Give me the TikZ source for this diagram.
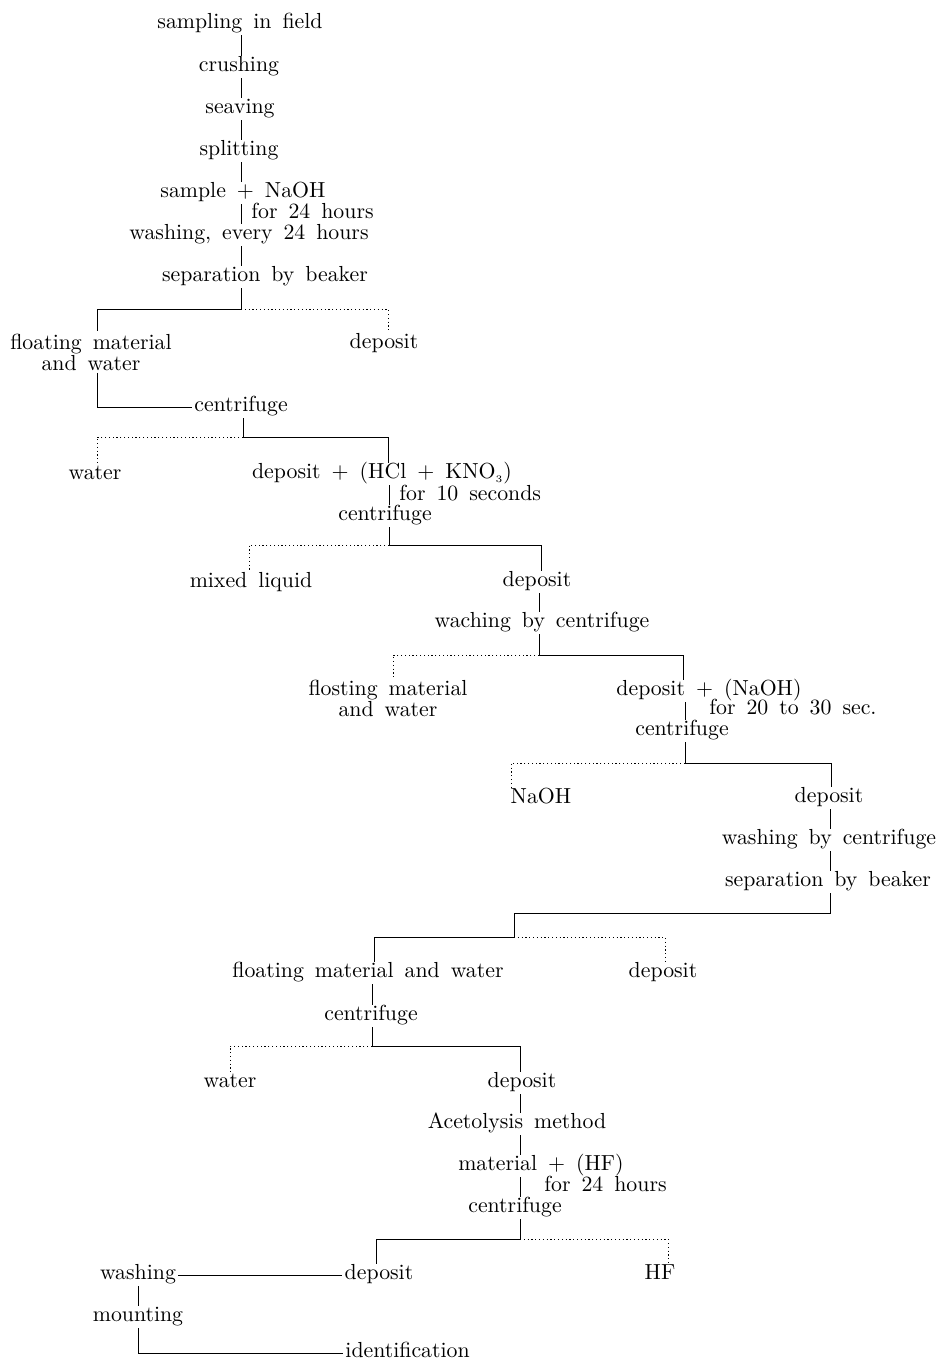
\documentclass[tikz,border=0pt]{standalone}
\usepackage{amsmath,amssymb}
\usepackage{tikz}
\usetikzlibrary{positioning,calc}
\newcommand\flowfont{\fontsize{10.9}{10.5}\selectfont\spaceskip=5.5pt\relax}

\begin{document}
\begin{tikzpicture}[x=0.5pt,y=-0.5pt,line width=0.45pt,
  lbl/.style={inner sep=1pt,text height=1.55ex,text depth=0.45ex,yshift=-1.5pt,font=\flowfont},
  lbltwo/.style={inner sep=1pt,align=center,font=\flowfont},
  waste/.style={dash pattern=on 0.6pt off 1.3pt}]
  \useasboundingbox (0,0) rectangle (941,1360);
  % main stem
  \node[lbl] (n1) at (240,21) {sampling in field};
  \node[lbl] (n2) at (239,64) {crushing};
  \node[lbl] (n3) at (240,106) {seaving};
  \node[lbl] (n4) at (239,148) {splitting};
  \node[lbl] (n5) at (243,190) {sample $+$ NaOH};
  \node[lbl,anchor=west] (t5) at (249,211) {for 24 hours};
  \node[lbl] (n6) at (249,232) {washing, every 24 hours};
  \node[lbl] (n7) at (265,274) {separation by beaker};
  \coordinate (b1) at (241,309); \coordinate (b1l) at (97,309); \coordinate (b1r) at (388,309);
  \draw (n1.south -| b1) -- (n2.north -| b1) (n2.south -| b1) -- (n3.north -| b1)
        (n3.south -| b1) -- (n4.north -| b1) (n4.south -| b1) -- (n5.north -| b1)
        (n5.south -| b1) -- (n6.north -| b1) (n6.south -| b1) -- (n7.north -| b1)
        (n7.south -| b1) -- (b1) -- (b1l);
  \node[lbltwo] (n8) at (91,352) {floating material\\and water};
  \node[lbl] (n9) at (384,341) {deposit};
  \draw (b1l) -- (n8.north -| b1l);
  \draw[waste] (b1) -- (b1r) -- (n9.north -| b1r);
  \node[lbl] (n10) at (241,404) {centrifuge};
  \draw (n8.south -| b1l) |- (n10.west);
  \coordinate (b2) at (243,437); \coordinate (b2l) at (97,437); \coordinate (b2r) at (388,437);
  \node[lbl] (n11) at (95,472) {water};
  \node[lbl] (n12) at (382,471) {deposit $+$ (HCl $+$ KNO$_{\scriptscriptstyle 3}$)};
  \node[lbl,anchor=west] (t12) at (397,493) {for 10 seconds};
  \node[lbl] (n13) at (385,513) {centrifuge};
  \draw (n10.south -| b2) -- (b2) -- (b2r) -- (n12.north -| b2r);
  \draw[waste] (b2) -- (b2l) -- (n11.north -| b2l);
  \coordinate (b3) at (389,545); \coordinate (b3l) at (249,545); \coordinate (b3r) at (541,545);
  \draw (n12.south -| b3) -- (n13.north -| b3) (n13.south -| b3) -- (b3) -- (b3r);
  \node[lbl] (n14) at (251,580) {mixed liquid};
  \node[lbl] (n15) at (537,579) {deposit};
  \node[lbl] (n16) at (542,620) {waching by centrifuge};
  \draw (b3r) -- (n15.north -| b3r);
  \draw[waste] (b3) -- (b3l) -- (n14.north -| b3l);
  \coordinate (b4) at (539,655); \coordinate (b4l) at (393,655); \coordinate (b4r) at (683,655);
  \draw (n15.south -| b4) -- (n16.north -| b4) (n16.south -| b4) -- (b4) -- (b4r);
  \node[lbltwo] (n17) at (388,698) {flosting material\\and water};
  \node[lbl] (n18) at (709,688) {deposit $+$ (NaOH)};
  \node[lbl,anchor=west] (t18) at (696,707) {\ for 20 to 30 sec.};
  \node[lbl] (n19) at (682,728) {centrifuge};
  \draw (b4r) -- (n18.north -| b4r);
  \draw[waste] (b4) -- (b4l) -- (n17.north -| b4l);
  \coordinate (b5) at (685,763); \coordinate (b5l) at (511,763); \coordinate (b5r) at (831,763);
  \draw (n18.south -| b5) -- (n19.north -| b5) (n19.south -| b5) -- (b5) -- (b5r);
  \node[lbl] (n20) at (541,796) {NaOH};
  \node[lbl] (n21) at (829,795) {deposit};
  \node[lbl] (n22) at (829,837) {washing by centrifuge};
  \node[lbl] (n23) at (828,879) {separation by beaker};
  \draw (b5r) -- (n21.north -| b5r);
  \draw[waste] (b5) -- (b5l) -- (n20.north -| b5l);
  \coordinate (b6) at (830,913); \coordinate (b6l) at (514,913);
  \coordinate (b7) at (514,937); \coordinate (b7l) at (374,937); \coordinate (b7r) at (665,937);
  \draw (n21.south -| b6) -- (n22.north -| b6) (n22.south -| b6) -- (n23.north -| b6)
        (n23.south -| b6) -- (b6) -- (b6l) -- (b7) -- (b7l);
  \node[lbl] (n24) at (368,970) {floating material and water};
  \node[lbl] (n25) at (663,970) {deposit};
  \node[lbl] (n26) at (371,1013) {centrifuge};
  \draw (b7l) -- (n24.north -| b7l);
  \draw[waste] (b7) -- (b7r) -- (n25.north -| b7r);
  \coordinate (b8) at (372,1046); \coordinate (b8l) at (230,1046); \coordinate (b8r) at (520,1046);
  \draw (n24.south -| b8) -- (n26.north -| b8) (n26.south -| b8) -- (b8) -- (b8r);
  \node[lbl] (n27) at (230,1080) {water};
  \node[lbl] (n28) at (522,1080) {deposit};
  \node[lbl] (n29) at (517,1121) {Acetolysis method};
  \node[lbl] (n30) at (541,1163) {material $+$ (HF)};
  \node[lbl,anchor=west] (t30) at (520,1184) {\ \ for 24 hours};
  \node[lbl] (n31) at (515,1205) {centrifuge};
  \draw (b8r) -- (n28.north -| b8r);
  \draw[waste] (b8) -- (b8l) -- (n27.north -| b8l);
  \coordinate (b9) at (520,1239); \coordinate (b9l) at (376,1239); \coordinate (b9r) at (668,1239);
  \draw (n28.south -| b9) -- (n29.north -| b9) (n29.south -| b9) -- (n30.north -| b9)
        (n30.south -| b9) -- (n31.north -| b9) (n31.south -| b9) -- (b9) -- (b9l);
  \node[lbl] (n32) at (379,1272) {deposit};
  \node[lbl] (n33) at (660,1272) {HF};
  \node[lbl] (n34) at (138,1272) {washing};
  \node[lbl] (n35) at (138,1314) {mounting};
  \node[lbl,anchor=west] (n36) at (343,1350) {identification};
  \draw (b9l) -- (n32.north -| b9l);
  \draw[waste] (b9) -- (b9r) -- (n33.north -| b9r);
  \draw (n34.east) -- (n32.west) (n34.south) -- (n35.north) (n35.south) |- (n36.west);
\end{tikzpicture}
\end{document}
